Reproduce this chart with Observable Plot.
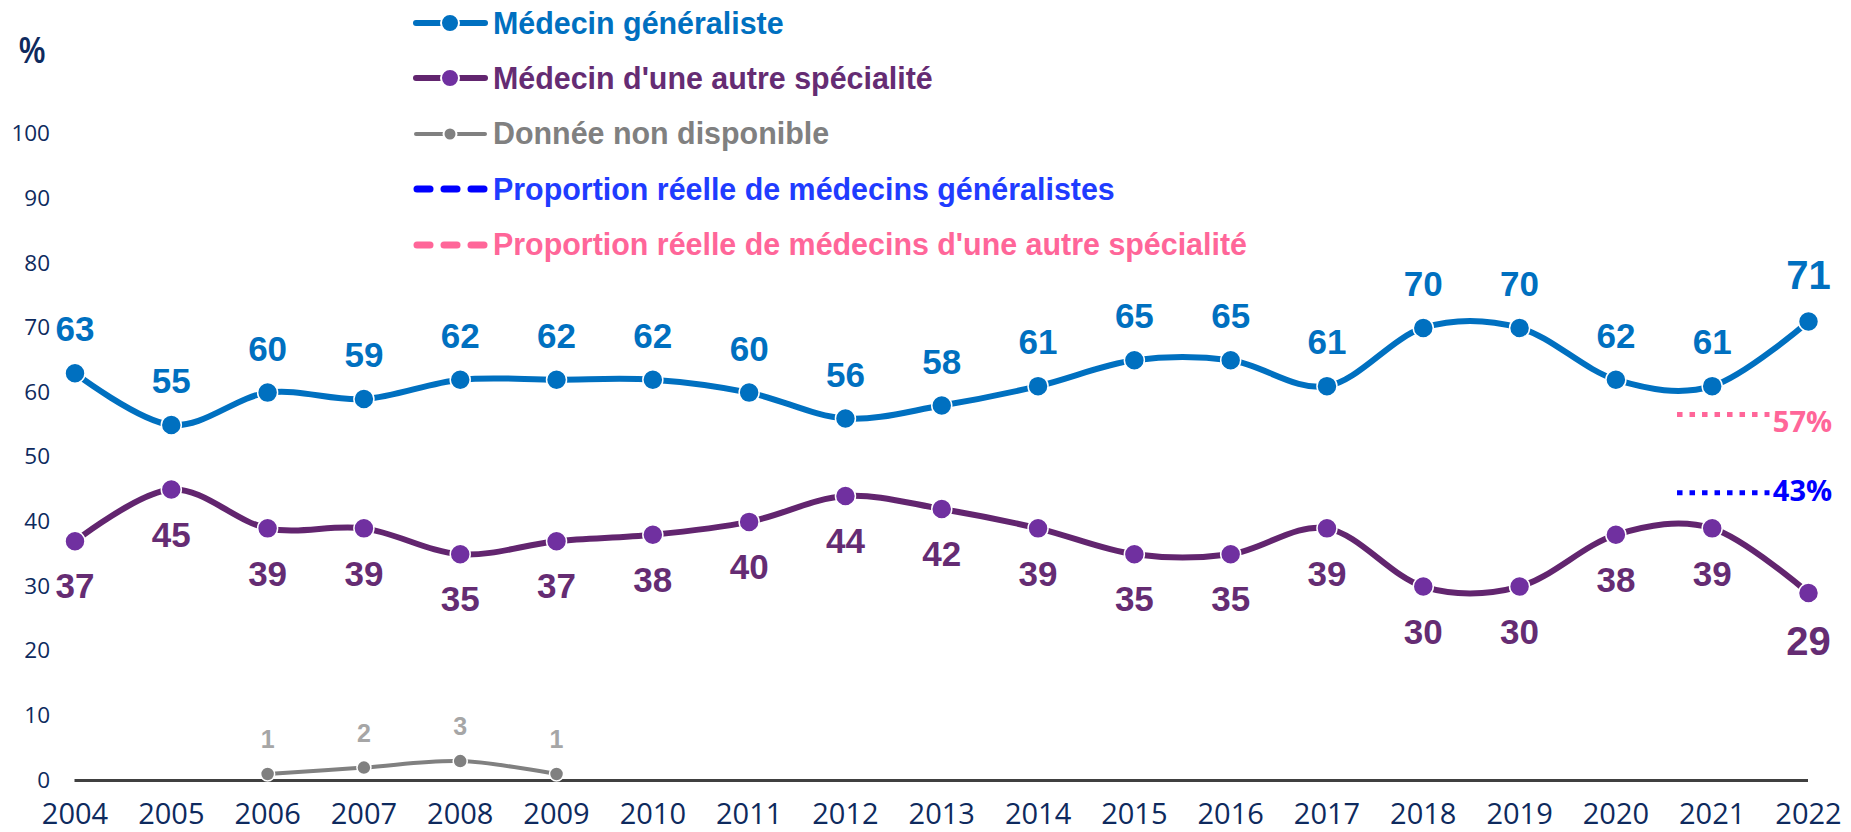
<!DOCTYPE html>
<html>
<head>
<meta charset="utf-8">
<script src="https://cdn.jsdelivr.net/npm/d3@7"></script>
<script src="https://cdn.jsdelivr.net/npm/@observablehq/plot@0.6"></script>
<style>
  html, body { margin: 0; padding: 0; background: #fff; }
  #wrap { position: relative; width: 1851px; height: 832px; overflow: hidden; }
  #chart { position: absolute; left: 0; top: 0; }
  .lg-row { position: absolute; left: 413px; height: 44px; display: flex; align-items: center; white-space: nowrap; }
  .lg-row svg { flex: none; }
  .lg-text { display: inline-block; margin-left: 4px; font-family: "Liberation Sans", Arial, sans-serif; font-weight: 700; font-size: 32px; transform: scaleX(0.95); transform-origin: left center; }
  #pct { position: absolute; left: 19px; top: 30px; font-family: "Liberation Sans", sans-serif; font-weight: 700; font-size: 36px; color: #0e2a5e; transform: scaleX(0.82); transform-origin: left center; }
</style>
</head>
<body>
<div id="wrap">
  <div id="chart"></div>
  <div id="pct">%</div>
  <div id="legend"></div>
</div>
<script>
// ---- Data ----
const years = [2004, 2005, 2006, 2007, 2008, 2009, 2010, 2011, 2012, 2013, 2014, 2015, 2016, 2017, 2018, 2019, 2020, 2021, 2022];
const generaliste = [63, 55, 60, 59, 62, 62, 62, 60, 56, 58, 61, 65, 65, 61, 70, 70, 62, 61, 71];
const autreSpecialite = [37, 45, 39, 39, 35, 37, 38, 40, 44, 42, 39, 35, 35, 39, 30, 30, 38, 39, 29];
const nonDispoYears = [2006, 2007, 2008, 2009];
const nonDispo = [1, 2, 3, 1];
const yTicks = [0, 10, 20, 30, 40, 50, 60, 70, 80, 90, 100];
const refLabels = ["57%", "43%"];
const refY = [56.6, 44.5];
const refStart = 2020.64;
const refEnd = 2021.6;
const refLabelX = 2021.63;
const seriesNames = [
  "Médecin généraliste",
  "Médecin d'une autre spécialité",
  "Donnée non disponible",
  "Proportion réelle de médecins généralistes",
  "Proportion réelle de médecins d'une autre spécialité"
];

// ---- Styles ----
const navy = "#0e2a5e";
const blue = "#0070C0";
const purpleLine = "#62256f";
const purpleDot = "#7030A0";
const purpleText = "#652c73";
const gray = "#808080";
const grayText = "#a6a6a6";
const pink = "#FF6699";
const pureBlue = "#0000FF";
const labelFont = "Liberation Sans, Arial, sans-serif";

const genData = years.map((year, i) => ({year, value: generaliste[i]}));
const autData = years.map((year, i) => ({year, value: autreSpecialite[i]}));
const ndData = nonDispoYears.map((year, i) => ({year, value: nonDispo[i]}));
const refData = refLabels.map((label, i) => ({label, y: refY[i], x1: refStart, x2: refEnd, lx: refLabelX}));
const lastYear = years[years.length - 1];

const chart = Plot.plot({
  width: 1851,
  height: 832,
  marginLeft: 74.5,
  marginRight: 43,
  marginTop: 133.5,
  marginBottom: 52,
  style: {background: "white", fontFamily: labelFont},
  x: {domain: [years[0], lastYear]},
  y: {domain: [0, 100]},
  marks: [
    Plot.axisY(yTicks, {tickSize: 0, tickPadding: 25, fontSize: 22.5, fontFamily: "Open Sans, sans-serif", color: navy, label: null}),
    Plot.axisX(years, {tickSize: 0, tickPadding: 22.5, fontSize: 29, fontFamily: "Open Sans, sans-serif", color: navy, tickFormat: d => String(d), label: null}),
    Plot.ruleY([0], {stroke: "#404040", strokeWidth: 3}),
    // reference dotted lines
    Plot.ruleY([refData[0]], {y: "y", x1: "x1", x2: "x2", stroke: pink, strokeWidth: 5, strokeDasharray: "5.5,7"}),
    Plot.ruleY([refData[1]], {y: "y", x1: "x1", x2: "x2", stroke: pureBlue, strokeWidth: 5, strokeDasharray: "5.5,7"}),
    Plot.text([refData[0]], {x: "lx", y: "y", text: "label", textAnchor: "start", dy: 8, fill: pink, fontFamily: "Open Sans, sans-serif", fontWeight: 700, fontSize: 29}),
    Plot.text([refData[1]], {x: "lx", y: "y", text: "label", textAnchor: "start", dy: -1, fill: pureBlue, fontFamily: "Open Sans, sans-serif", fontWeight: 700, fontSize: 29}),
    // non disponible
    Plot.line(ndData, {x: "year", y: "value", stroke: gray, strokeWidth: 4, curve: "cardinal"}),
    Plot.dot(ndData, {x: "year", y: "value", r: 7, fill: gray, stroke: "white", strokeWidth: 1.5}),
    Plot.text(ndData, {x: "year", y: "value", text: d => String(d.value), dy: -34, fill: grayText, fontWeight: 700, fontSize: 25, fontFamily: labelFont}),
    // autre spécialité
    Plot.line(autData, {x: "year", y: "value", stroke: purpleLine, strokeWidth: 6, curve: "cardinal"}),
    Plot.dot(autData, {x: "year", y: "value", r: 10, fill: purpleDot, stroke: "white", strokeWidth: 1.5}),
    Plot.text(autData, {filter: d => d.year !== lastYear, x: "year", y: "value", text: d => String(d.value), dy: 46, fill: purpleText, fontWeight: 700, fontSize: 35, fontFamily: labelFont}),
    Plot.text(autData, {filter: d => d.year === lastYear, x: "year", y: "value", text: d => String(d.value), dy: 49, fill: purpleText, fontWeight: 700, fontSize: 40, fontFamily: labelFont}),
    // généraliste
    Plot.line(genData, {x: "year", y: "value", stroke: blue, strokeWidth: 6, curve: "cardinal"}),
    Plot.dot(genData, {x: "year", y: "value", r: 10, fill: blue, stroke: "white", strokeWidth: 1.5}),
    Plot.text(genData, {filter: d => d.year !== lastYear, x: "year", y: "value", text: d => String(d.value), dy: -43, fill: blue, fontWeight: 700, fontSize: 35, fontFamily: labelFont}),
    Plot.text(genData, {filter: d => d.year === lastYear, x: "year", y: "value", text: d => String(d.value), dy: -45, fill: blue, fontWeight: 700, fontSize: 40, fontFamily: labelFont})
  ]
});
document.getElementById("chart").appendChild(chart);

// ---- Legend (HTML, overlaid) ----
const legendItems = [
  {name: seriesNames[0], color: blue, line: blue, dot: blue, kind: "dot", w: 6, r: 9, top: 23},
  {name: seriesNames[1], color: purpleText, line: purpleLine, dot: purpleDot, kind: "dot", w: 6, r: 9, top: 78},
  {name: seriesNames[2], color: gray, line: gray, dot: gray, kind: "dot", w: 4, r: 6.5, top: 133.5},
  {name: seriesNames[3], color: "#1f3cff", line: pureBlue, kind: "dash", w: 7, top: 189},
  {name: seriesNames[4], color: pink, line: pink, kind: "dash", w: 7, top: 244.5}
];
const legend = document.getElementById("legend");
const ns = "http://www.w3.org/2000/svg";
for (const it of legendItems) {
  const row = document.createElement("div");
  row.className = "lg-row";
  row.style.top = (it.top - 22) + "px";
  const s = document.createElementNS(ns, "svg");
  s.setAttribute("width", 76); s.setAttribute("height", 24);
  if (it.kind === "dot") {
    const l = document.createElementNS(ns, "line");
    l.setAttribute("x1", 3); l.setAttribute("x2", 72); l.setAttribute("y1", 12); l.setAttribute("y2", 12);
    l.setAttribute("stroke", it.line); l.setAttribute("stroke-width", it.w); l.setAttribute("stroke-linecap", "round");
    s.appendChild(l);
    const c = document.createElementNS(ns, "circle");
    c.setAttribute("cx", 37); c.setAttribute("cy", 12); c.setAttribute("r", it.r);
    c.setAttribute("fill", it.dot); c.setAttribute("stroke", "white"); c.setAttribute("stroke-width", 2);
    s.appendChild(c);
  } else {
    for (const x0 of [4, 31, 58]) {
      const l = document.createElementNS(ns, "line");
      l.setAttribute("x1", x0); l.setAttribute("x2", x0 + 13); l.setAttribute("y1", 12); l.setAttribute("y2", 12);
      l.setAttribute("stroke", it.line); l.setAttribute("stroke-width", it.w); l.setAttribute("stroke-linecap", "round");
      s.appendChild(l);
    }
  }
  row.appendChild(s);
  const t = document.createElement("span");
  t.className = "lg-text";
  t.style.color = it.color;
  t.textContent = it.name;
  row.appendChild(t);
  legend.appendChild(row);
}
</script>
</body>
</html>
